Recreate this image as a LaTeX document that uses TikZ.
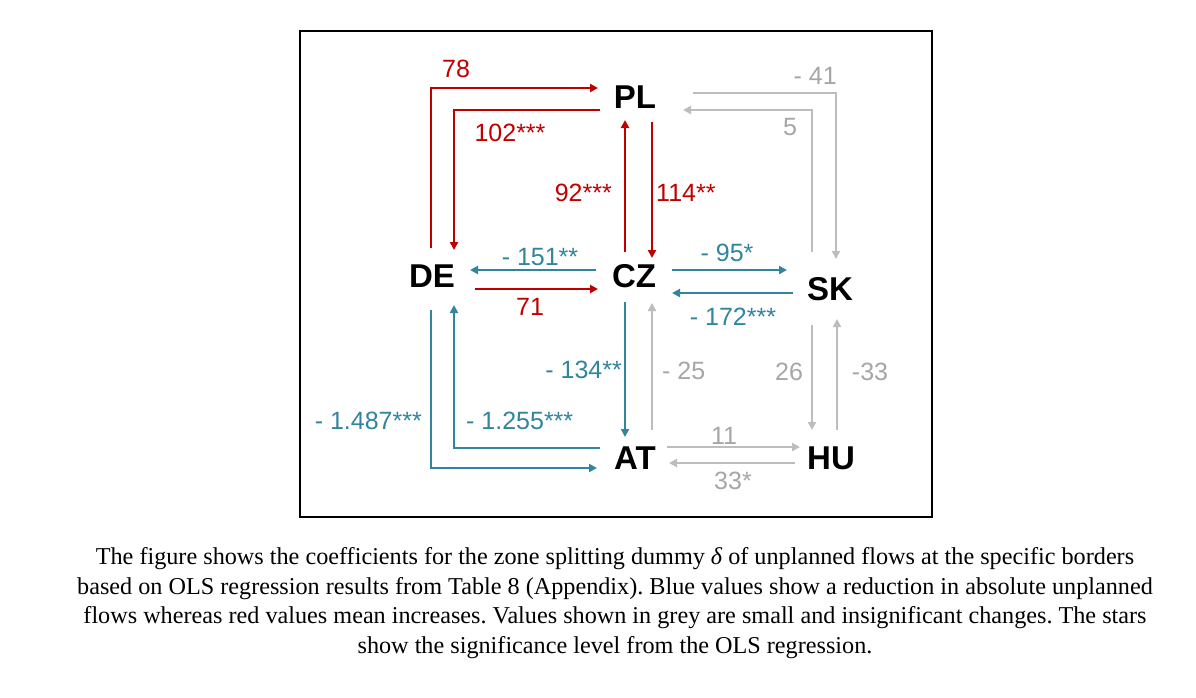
\documentclass[tikz,border=0pt]{standalone}
\usepackage{fontspec}
\setmainfont{Liberation Serif}
\newfontfamily\arialf{Liberation Sans}
\usetikzlibrary{arrows.meta,calc}
\definecolor{cred}{HTML}{C00000}
\definecolor{cteal}{HTML}{31859C}
\definecolor{cgreyl}{HTML}{BDBDBD}
\definecolor{cgreyt}{HTML}{A6A6A6}
\frenchspacing
\tikzset{
  country/.style={inner sep=0pt,font=\arialf\bfseries\fontsize{33}{33}\selectfont},
  lab/.style={inner sep=0pt,font=\arialf\fontsize{25}{25}\selectfont},
  flow/.style={line width=2pt,-{Triangle[length=8pt,width=8pt]}},
  redf/.style={flow,draw=cred,cred},
  tealf/.style={flow,draw=cteal,cteal},
  greyf/.style={flow,draw=cgreyl,cgreyl},
  caption/.style={inner sep=0pt,font=\fontsize{24.2}{24.2}\selectfont},
}
\begin{document}
\begin{tikzpicture}[x=1pt,y=-1pt]
\useasboundingbox (0,0) rectangle (1196,697);
\fill[white] (0,0) rectangle (1196,697);
\draw[line width=1.5pt] (300,31) rectangle (932,517);

\node[country] (PL) at (635,97) {PL};
\node[country] (DE) at (432,276) {DE};
\node[country] (CZ) at (634,276) {CZ};
\node[country] (SK) at (830,289) {SK};
\node[country] (AT) at (635,458) {AT};
\node[country] (HU) at (831,458) {HU};

% red
\draw[redf] ($(DE)+(-1,-28)$) |- ($(PL)+(-37,-9)$);
\draw[redf] ($(PL)+(-35,13)$) -| ($(DE)+(22,-26)$);
\draw[redf] ($(CZ)+(-9,-24)$) -- ($(PL)+(-10,23)$);
\draw[redf] ($(PL)+(17,25)$) -- ($(CZ)+(18,-18)$);
\draw[redf] ($(DE)+(43,13)$) -- ($(CZ)+(-36,13)$);
% teal
\draw[tealf] ($(CZ)+(-38,-6)$) -- ($(DE)+(38,-6)$);
\draw[tealf] ($(CZ)+(-9,26)$) -- ($(AT)+(-10,-21)$);
\draw[tealf] ($(CZ)+(38,-6)$) -- ($(SK)+(-43,-19)$);
\draw[tealf] ($(SK)+(-37,4)$) -- ($(CZ)+(38,17)$);
\draw[tealf] ($(DE)+(-1,34)$) |- ($(AT)+(-38,10)$);
\draw[tealf] ($(AT)+(-35,-10)$) -| ($(DE)+(22,29)$);
% grey
\draw[greyf] ($(AT)+(17,-28)$) -- ($(CZ)+(18,27)$);
\draw[greyf] ($(PL)+(58,-4)$) -| ($(SK)+(6,-30)$);
\draw[greyf] ($(SK)+(-18,-37)$) |- ($(PL)+(48,13)$);
\draw[greyf] ($(SK)+(-18,36)$) -- ($(HU)+(-19,-28)$);
\draw[greyf] ($(HU)+(6,-28)$) -- ($(SK)+(7,30)$);
\draw[greyf] ($(AT)+(32,-11)$) -- ($(HU)+(-31,-11)$);
\draw[greyf] ($(HU)+(-36,5)$) -- ($(AT)+(34,5)$);

% labels
\node[lab,cred] (l78) at (456,69) {78};
\node[lab,cred] (l102) at (510,133) {102***};
\node[lab,cred,anchor=east] (l92) at (612,193) {92***};
\node[lab,cred,anchor=west] (l114) at (656,193) {114**};
\node[lab,cred] (l71) at (530,307) {71};
\node[lab,cteal] (l151) at (540,257) {- 151**};
\node[lab,cteal,anchor=east] (l134) at (622,370) {- 134**};
\node[lab,cteal] (l95) at (727,253) {- 95*};
\node[lab,cteal] (l172) at (733,317) {- 172***};
\node[lab,cteal,anchor=east] (l1487) at (422,421) {- 1.487***};
\node[lab,cteal,anchor=west] (l1255) at (466,421) {- 1.255***};
\node[lab,cgreyt,anchor=west] (l25) at (662,371) {- 25};
\node[lab,cgreyt,anchor=east] (l41) at (837,76) {- 41};
\node[lab,cgreyt] (l5) at (790,127) {5};
\node[lab,cgreyt] (l26) at (789,372) {26};
\node[lab,cgreyt] (l33n) at (870,372) {-33};
\node[lab,cgreyt] (l11) at (724,436) {11};
\node[lab,cgreyt] (l33s) at (733,481) {33*};

% caption
\node[caption] (c1) at (615,559) {The figure shows the coefficients for the zone splitting dummy {\itshape δ} of unplanned flows at the specific borders};
\node[caption] (c2) at (615,589) {based on OLS regression results from Table 8 (Appendix). Blue values show a reduction in absolute unplanned};
\node[caption] (c3) at (615,618) {flows whereas red values mean increases. Values shown in grey are small and insignificant changes. The stars};
\node[caption] (c4) at (615,648) {show the significance level from the OLS regression.};
\end{tikzpicture}
\end{document}
